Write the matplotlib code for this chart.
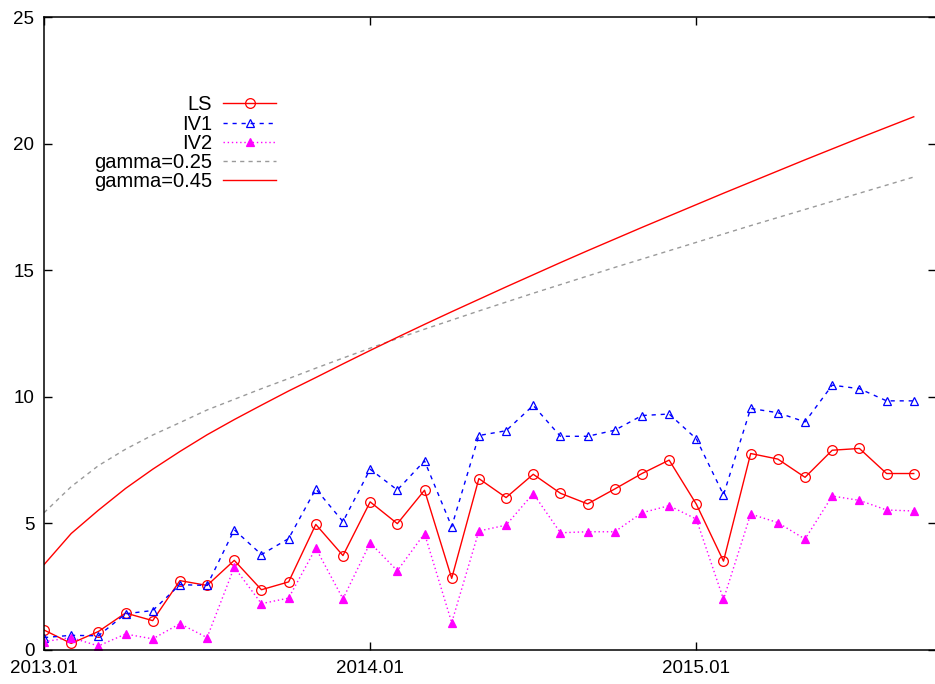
import numpy as np
import matplotlib
matplotlib.use("Agg")
import matplotlib.pyplot as plt

# =============================================================================
# Monthly estimates 2013.01 - 2015.09: LS / IV1 / IV2 vs gamma reference curves
# =============================================================================
plt.rcParams['font.family'] = ['Liberation Sans', 'DejaVu Sans']

tick_pos = [0, 12, 24]
tick_labels = ['2013.01', '2014.01', '2015.01']

ls = [0.79, 0.26, 0.73, 1.46, 1.16, 2.74, 2.55, 3.54, 2.38, 2.69, 4.96,
      3.73, 5.85, 4.99, 6.31, 2.83, 6.77, 6.02, 6.94, 6.19, 5.77, 6.36,
      6.97, 7.50, 5.76, 3.51, 7.76, 7.54, 6.82, 7.89, 7.96, 6.97, 6.97]
iv1 = [0.49, 0.58, 0.56, 1.43, 1.56, 2.58, 2.55, 4.75, 3.77, 4.40, 6.36,
       5.07, 7.14, 6.32, 7.47, 4.87, 8.47, 8.66, 9.66, 8.44, 8.44, 8.68,
       9.26, 9.32, 8.34, 6.13, 9.54, 9.37, 9.01, 10.46, 10.32, 9.84, 9.84]
iv2 = [0.33, 0.49, 0.16, 0.63, 0.44, 1.04, 0.49, 3.27, 1.83, 2.05, 4.02,
       2.02, 4.23, 3.13, 4.60, 1.08, 4.70, 4.93, 6.18, 4.63, 4.67, 4.67,
       5.42, 5.70, 5.17, 2.00, 5.37, 5.03, 4.38, 6.08, 5.91, 5.53, 5.49]
gamma025 = [5.42, 6.45, 7.28, 7.93, 8.49, 8.98, 9.48, 9.90, 10.32, 10.72, 11.13,
            11.53, 11.92, 12.30, 12.67, 13.03, 13.39, 13.74, 14.09, 14.43, 14.77, 15.11,
            15.44, 15.77, 16.10, 16.43, 16.76, 17.08, 17.40, 17.72, 18.04, 18.36, 18.68]
gamma045 = [3.37, 4.60, 5.52, 6.38, 7.14, 7.84, 8.50, 9.10, 9.67, 10.23, 10.76,
            11.30, 11.83, 12.35, 12.86, 13.36, 13.85, 14.34, 14.82, 15.30, 15.77, 16.23,
            16.69, 17.14, 17.59, 18.04, 18.48, 18.92, 19.36, 19.79, 20.22, 20.64, 21.06]

x = np.arange(len(ls))

fig = plt.figure(figsize=(9.35, 6.84), dpi=100)
ax = fig.add_axes([44 / 935, 34 / 684, 891.5 / 935, 633 / 684])

ax.plot(x, ls, color='#FF0000', lw=1.0, marker='o', ms=7, mfc='none', mew=0.9, label='LS')
ax.plot(x, iv1, color='#0000FF', lw=1.0, dashes=(3, 3.5), marker='^', ms=6.3, mfc='none', mew=0.9, label='IV1')
ax.plot(x, iv2, color='#FF00FF', lw=1.0, dashes=(1, 2), marker='^', ms=6.3, mfc='#FF00FF', mew=0.9, label='IV2')
ax.plot(x, gamma025, color='#9A9A9A', lw=1.0, dashes=(3, 3), label='gamma=0.25')
ax.plot(x, gamma045, color='#FF0000', lw=1.0, label='gamma=0.45')

ax.set_xlim(0, 32.8)
ax.set_ylim(0, 25)
ax.set_xticks(tick_pos)
ax.set_xticklabels(tick_labels)
ax.set_yticks(np.arange(0, 26, 5))
ax.tick_params(direction='in', length=5.5, width=1.0, labelsize=13.5,
               top=True, right=True, pad=7)
for s in ax.spines.values():
    s.set_linewidth(1.1)

leg = ax.legend(loc='upper right', bbox_to_anchor=(0.260, 0.876), frameon=False,
                markerfirst=False, numpoints=1, fontsize=14.5, handlelength=2.6,
                handletextpad=0.55, labelspacing=0.01, borderpad=0, borderaxespad=0)

plt.savefig('out.png', dpi=100)
plt.close()
print("Saved: out.png")
